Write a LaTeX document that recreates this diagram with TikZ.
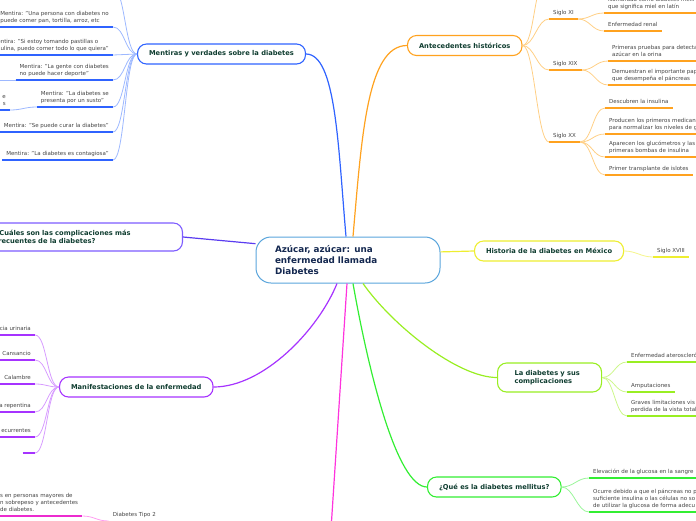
\documentclass[tikz,border=0pt]{standalone}
\usepackage{fontspec}
\setmainfont{DejaVu Sans}
\usetikzlibrary{positioning}
\definecolor{centralblue}{HTML}{5AA5DC}
\definecolor{navytext}{HTML}{142850}
\definecolor{topictext}{HTML}{0F3D30}
\definecolor{leaftext}{HTML}{444444}
\definecolor{mblue}{HTML}{2F63FF}
\definecolor{mbluelt}{HTML}{9DB8FF}
\definecolor{cviolet}{HTML}{7D5CFF}
\definecolor{cvioletdk}{HTML}{5A3CF0}
\definecolor{pviolet}{HTML}{A633FF}
\definecolor{pvioletlt}{HTML}{D79CFF}
\definecolor{magentabr}{HTML}{FF33DD}
\definecolor{magentalt}{HTML}{FF9CF0}
\definecolor{orangebr}{HTML}{FFA21F}
\definecolor{orangelt}{HTML}{FFCF85}
\definecolor{yellowbr}{HTML}{EEEE30}
\definecolor{yellowlt}{HTML}{F5F58A}
\definecolor{lgreen}{HTML}{99EE22}
\definecolor{lgreenlt}{HTML}{CCF78A}
\definecolor{greenbr}{HTML}{33EE33}
\definecolor{greenlt}{HTML}{99F599}
\tikzset{
  central/.style={rectangle,draw=centralblue,fill=white,rounded corners=15pt,line width=1pt,
    font=\bfseries\fontsize{8.8}{11}\selectfont,text=navytext,align=left,
    text width=146pt,inner xsep=19pt,minimum height=46pt},
  topic/.style={rectangle,fill=white,rounded corners=9pt,line width=1.1pt,
    font=\bfseries\fontsize{6.7}{8.6}\selectfont,text=topictext,align=left,
    inner xsep=11.5pt,inner ysep=3pt,minimum height=20pt},
  leaf/.style={align=left,font=\fontsize{5.5}{6.7}\selectfont,text=leaftext,
    inner xsep=4pt,inner ysep=2.5pt,text depth=2pt},
  trunk/.style={line width=1.2pt},
  line/.style={line width=0.8pt},
  bar/.style={line width=2.4pt},
  fanl/.style={out=180,in=0,distance=12pt},
  fanr/.style={out=0,in=180,distance=12pt}
}

\begin{document}
\begin{tikzpicture}[x=1pt,y=-1pt]
\useasboundingbox (0,0) rectangle (696,520);
\clip (0,0) rectangle (696,520);

\node[central] (center) at (348,260) {Azúcar, azúcar: una\\enfermedad llamada\\Diabetes};

\node[topic,draw=mblue,anchor=west] (mentiras) at (137,54) {Mentiras y verdades sobre la diabetes};
\node[topic,draw=cviolet,anchor=east,text width=177pt,inner xsep=10pt,minimum height=28pt] (complic) at (183,237) {¿Cuáles son las complicaciones más\\frecuentes de la diabetes?};
\node[topic,draw=pviolet,anchor=west] (manifest) at (59,387) {Manifestaciones de la enfermedad};
\node[topic,draw=orangebr,anchor=west] (antec) at (407,45.5) {Antecedentes históricos};
\node[topic,draw=yellowbr,anchor=west] (historia) at (474,251) {Historia de la diabetes en México};
\node[topic,draw=lgreen,anchor=west,text width=70pt,inner xsep=17pt,minimum height=29pt] (ladiab) at (497,377.5) {La diabetes y sus complicaciones};
\node[topic,draw=greenbr,anchor=west] (quees) at (427,487) {¿Qué es la diabetes mellitus?};
\coordinate (tipos) at (329,560);

\draw[trunk,mblue] ([xshift=-2pt]center.north) to[out=95,in=0,out distance=90pt,in distance=30pt] (mentiras.east);
\draw[trunk,orangebr] ([xshift=5pt]center.north) to[out=85,in=180,out distance=100pt,in distance=40pt] (antec.west);
\draw[trunk,cvioletdk] (center.170) -- (complic.east);
\draw[trunk,yellowbr] (center.5) -- (historia.west);
\draw[trunk,pviolet] ([xshift=-11pt]center.south) to[out=-112,in=0,out distance=50pt,in distance=50pt] (manifest.east);
\draw[trunk,magentabr] ([xshift=-1pt]center.south) -- (tipos);
\draw[trunk,greenbr] ([xshift=5pt]center.south) to[out=-80,in=180,out distance=90pt,in distance=30pt] (quees.west);
\draw[trunk,lgreen] ([xshift=15pt]center.south) to[out=-55,in=180,out distance=50pt,in distance=40pt] (ladiab.west);

% mentiras
\coordinate (m0) at (113,-12);
\node[leaf,anchor=south east] (m1) at (113,27) {Mentira: "Una persona con diabetes no\\puede comer pan, tortilla, arroz, etc};
\node[leaf,anchor=south east] (m2) at (113,55) {Mentira: "Si estoy tomando pastillas o\\insulina, puedo comer todo lo que quiera"};
\node[leaf,anchor=south east] (m3) at (113,80) {Mentira: "La gente con diabetes\\no puede hacer deporte"};
\node[leaf,anchor=south east] (m4) at (113,107) {Mentira: "La diabetes se\\presenta por un susto"};
\node[leaf,anchor=south east] (m5) at (113,132) {Mentira: "Se puede curar la diabetes"};
\node[leaf,anchor=south east] (m6) at (113,160) {Mentira: "La diabetes es contagiosa"};
\node[leaf,anchor=south east,align=right] (m4a) at (10,110) {e\\s};
\coordinate (m3a) at (-10,80);
\foreach \n in {m0,m1,m2,m3,m4,m5,m6}
  \draw[line,mbluelt] (mentiras.west) to[fanl] (\n.south east);
\draw[line,mbluelt] (m4.south west) to[fanl] (m4a.south east);
\draw[line,mbluelt] (m3.south west) -- (m3a);
\foreach \n in {m1,m2,m3,m4,m5,m6,m4a}
  \draw[bar,mblue] (\n.south west) -- (\n.south east);

% manifestaciones
\node[leaf,anchor=south east] (f1) at (35,335) {cia urinaria};
\node[leaf,anchor=south east] (f2) at (35,360) {Cansancio};
\node[leaf,anchor=south east] (f3) at (35,384) {Calambre};
\node[leaf,anchor=south east] (f4) at (35,412) {a repentina};
\node[leaf,anchor=south east] (f5) at (35,437) {ecurrentes};
\node[leaf,anchor=south east,minimum width=12pt] (f6) at (35,453) {};
\foreach \n in {f1,f2,f3,f4,f5,f6}{
  \draw[line,pvioletlt] (manifest.west) to[fanl] (\n.south east);
  \draw[bar,pviolet] (\n.south west) -- (\n.south east);
}

% tipo 2
\node[leaf,anchor=south east] (tipo2) at (160,521) {Diabetes Tipo 2};
\node[leaf,anchor=south west] (t2desc) at (-4,516) {s en personas mayores de\\n sobrepeso y antecedentes\\de diabetes.};
\draw[line,magentalt] (tipo2.south west) to[fanl] (t2desc.south east);
\draw[bar,magentabr!85!violet] (t2desc.south west) -- (t2desc.south east);

% antecedentes
\coordinate (a0) at (546,-20);
\node[leaf,anchor=south west] (s11) at (549,19) {Siglo XI};
\node[leaf,anchor=south west] (s19) at (549,70) {Siglo XIX};
\node[leaf,anchor=south west] (s20) at (549,142) {Siglo XX};
\node[leaf,anchor=south west] (a1) at (604,13) {Nombrada como diabetes melli\\que significa miel en latín};
\node[leaf,anchor=south west] (a2) at (604,31) {Enfermedad renal};
\node[leaf,anchor=south west] (a3) at (608,61) {Primeras pruebas para detecta\\azúcar en la orina};
\node[leaf,anchor=south west] (a4) at (608,85) {Demuestran el importante pap\\que desempeña el páncreas};
\node[leaf,anchor=south west] (a5) at (605,108) {Descubren la insulina};
\node[leaf,anchor=south west] (a6) at (605,134) {Producen los primeros medican\\para normalizar los niveles de g};
\node[leaf,anchor=south west] (a7) at (605,157) {Aparecen los glucómetros y las\\primeras bombas de insulina};
\node[leaf,anchor=south west] (a8) at (605,175) {Primer transplante de islotes};
\foreach \n in {a0,s11,s19,s20}
  \draw[line,orangelt] (antec.east) to[fanr] (\n.south west);
\foreach \p/\n in {s11/a1,s11/a2,s19/a3,s19/a4,s20/a5,s20/a6,s20/a7,s20/a8}
  \draw[line,orangelt] (\p.south east) to[fanr] (\n.south west);
\foreach \n in {s11,s19,s20,a1,a2,a3,a4,a5,a6,a7,a8}
  \draw[bar,orangebr] (\n.south west) -- (\n.south east);

% historia
\node[leaf,anchor=south west] (h1) at (653,257) {Siglo XVIII};
\draw[line,yellowlt] (historia.east) to[fanr] (h1.south west);
\draw[bar,yellowbr] (h1.south west) -- (h1.south east);

% complicaciones
\node[leaf,anchor=south west] (c1) at (627,362) {Enfermedad ateroscleró};
\node[leaf,anchor=south west] (c2) at (627,392) {Amputaciones};
\node[leaf,anchor=south west] (c3) at (627,416) {Graves limitaciones vis\\perdida de la vista total};
\foreach \n in {c1,c2,c3}{
  \draw[line,lgreenlt] (ladiab.east) to[fanr] (\n.south west);
  \draw[bar,lgreen] (\n.south west) -- (\n.south east);
}

% que es
\node[leaf,anchor=south west] (q1) at (589,478) {Elevación de la glucosa en la sangre};
\node[leaf,anchor=south west] (q2) at (589,512) {Ocurre debido a que el páncreas no p\\suficiente insulina o las células no so\\de utilizar la glucosa de forma adecu};
\foreach \n in {q1,q2}{
  \draw[line,greenlt] (quees.east) to[fanr] (\n.south west);
  \draw[bar,greenbr] (\n.south west) -- (\n.south east);
}
\end{tikzpicture}
\end{document}
